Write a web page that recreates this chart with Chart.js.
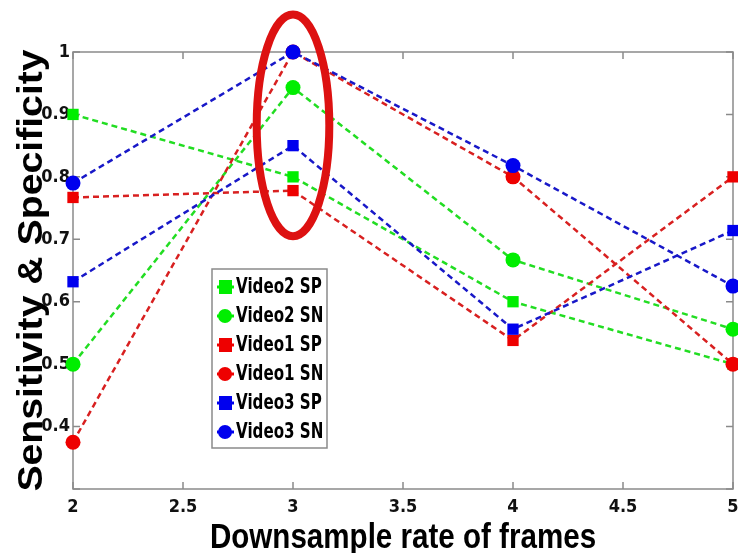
<!DOCTYPE html>
<html>
<head>
<meta charset="utf-8">
<script src="https://cdn.jsdelivr.net/npm/chart.js@4/dist/chart.umd.min.js"></script>
<style>
  html, body { margin: 0; padding: 0; background: #fff; }
  #wrap { width: 738px; height: 553px; }
</style>
</head>
<body>
<div id="wrap"><canvas id="chart" width="738" height="553"></canvas></div>
<script>
// downsample rates on the x axis
const rates = [2, 3, 4, 5];

// sensitivity / specificity per video
const video2SP = [0.9, 0.8, 0.6, 0.5];
const video2SN = [0.5, 0.943, 0.667, 0.556];
const video1SP = [0.767, 0.778, 0.538, 0.8];
const video1SN = [0.375, 1.0, 0.8, 0.5];
const video3SP = [0.632, 0.85, 0.556, 0.714];
const video3SN = [0.79, 1.0, 0.818, 0.625];

const xTicks = [2, 2.5, 3, 3.5, 4, 4.5, 5];
const yTicks = [0.3, 0.4, 0.5, 0.6, 0.7, 0.8, 0.9, 1];

const xTitle = "Downsample rate of frames";
const yTitle = "Sensitivity & Specificity";

const narrow = "'DejaVu Sans Condensed', 'Liberation Sans', sans-serif";
const bold = "'Liberation Sans', Arial, sans-serif";

const GREEN = "#00ee00", RED = "#ee0000", BLUE = "#0000ee";

const series = [
  { label: "Video2 SP", data: video2SP, color: GREEN, line: "#22dd22", shape: "rect" },
  { label: "Video2 SN", data: video2SN, color: GREEN, line: "#22dd22", shape: "circle" },
  { label: "Video1 SP", data: video1SP, color: RED, line: "#d82020", shape: "rect" },
  { label: "Video1 SN", data: video1SN, color: RED, line: "#d82020", shape: "circle" },
  { label: "Video3 SP", data: video3SP, color: BLUE, line: "#1818c8", shape: "rect" },
  { label: "Video3 SN", data: video3SN, color: BLUE, line: "#1818c8", shape: "circle" }
];

const datasets = series.map((s, i) => ({
  label: s.label,
  data: s.data.map((v, j) => ({ x: rates[j], y: v })),
  borderColor: s.line,
  backgroundColor: s.color,
  pointBackgroundColor: s.color,
  pointBorderColor: s.color,
  pointStyle: s.shape,
  pointRadius: s.shape === "rect" ? 8 : 7.5,
  pointBorderWidth: 0,
  borderWidth: 2.5,
  borderDash: [6, 4],
  tension: 0,
  clip: false,
  order: series.length - i
}));

// MATLAB-like box with inward ticks, axis titles, legend and the red ellipse
const decorations = {
  id: "decorations",
  beforeDatasetsDraw(chart) {
    const { ctx, chartArea: a, scales: { x, y } } = chart;
    ctx.save();
    ctx.strokeStyle = "#8a8a8a";
    ctx.lineWidth = 1.5;
    ctx.strokeRect(a.left, a.top, a.right - a.left, a.bottom - a.top);
    ctx.beginPath();
    xTicks.forEach(t => {
      const px = x.getPixelForValue(t);
      ctx.moveTo(px, a.bottom); ctx.lineTo(px, a.bottom - 7);
      ctx.moveTo(px, a.top); ctx.lineTo(px, a.top + 7);
    });
    yTicks.forEach(t => {
      const py = y.getPixelForValue(t);
      ctx.moveTo(a.left, py); ctx.lineTo(a.left + 7, py);
      ctx.moveTo(a.right, py); ctx.lineTo(a.right - 7, py);
    });
    ctx.stroke();

    // axis titles, squeezed like the original figure
    ctx.fillStyle = "#000";
    ctx.font = "bold 35px " + bold;
    ctx.textAlign = "center";
    ctx.textBaseline = "alphabetic";
    ctx.save();
    ctx.translate((a.left + a.right) / 2, 548);
    ctx.scale(0.845, 1);
    ctx.fillText(xTitle, 0, 0);
    ctx.restore();
    ctx.save();
    ctx.translate(42, (a.top + a.bottom) / 2);
    ctx.rotate(-Math.PI / 2);
    ctx.scale(1.12, 1);
    ctx.fillText(yTitle, 0, 0);
    ctx.restore();
    ctx.restore();
  },
  afterDraw(chart) {
    const { ctx, scales: { x, y } } = chart;
    ctx.save();

    // legend box
    const lx = 212, ly = 269, lw = 115, lh = 179, row = 29;
    ctx.fillStyle = "#fff";
    ctx.fillRect(lx, ly, lw, lh);
    ctx.strokeStyle = "#8a8a8a";
    ctx.lineWidth = 1.5;
    ctx.strokeRect(lx, ly, lw, lh);
    chart.data.datasets.forEach((ds, i) => {
      const cy = ly + 18 + i * row;
      ctx.strokeStyle = ds.backgroundColor;
      ctx.lineWidth = 3;
      ctx.setLineDash([]);
      ctx.beginPath();
      ctx.moveTo(lx + 5, cy); ctx.lineTo(lx + 22, cy);
      ctx.stroke();
      ctx.fillStyle = ds.backgroundColor;
      if (ds.pointStyle === "rect") {
        ctx.fillRect(lx + 7, cy - 7, 13, 14);
      } else {
        ctx.beginPath();
        ctx.arc(lx + 13, cy, 7, 0, Math.PI * 2);
        ctx.fill();
      }
      ctx.fillStyle = "#000";
      ctx.font = "bold 21px " + narrow;
      ctx.textBaseline = "middle";
      ctx.save();
      ctx.translate(lx + 24, cy + 1);
      ctx.scale(0.8, 1);
      ctx.fillText(ds.label, 0, 0);
      ctx.restore();
    });

    // red ellipse around x = 3
    const cx = x.getPixelForValue(3);
    const top = y.getPixelForValue(1.06), bot = y.getPixelForValue(0.705);
    const rx = x.getPixelForValue(3.165) - cx;
    ctx.strokeStyle = "#dd1111";
    ctx.lineWidth = 8;
    ctx.beginPath();
    ctx.ellipse(cx, (top + bot) / 2, rx, (bot - top) / 2, 0, 0, Math.PI * 2);
    ctx.stroke();
    ctx.restore();
  }
};

new Chart(document.getElementById("chart").getContext("2d"), {
  type: "line",
  data: { datasets },
  plugins: [decorations],
  options: {
    responsive: false,
    animation: false,
    layout: { autoPadding: false, padding: { top: 52, right: 5, left: 0, bottom: 0 } },
    plugins: {
      legend: { display: false },
      tooltip: { enabled: false }
    },
    scales: {
      x: {
        type: "linear",
        min: 2,
        max: 5,
        afterFit: s => { s.height = 64; s.paddingRight = 0; s.paddingLeft = 0; },
        afterBuildTicks: s => { s.ticks = xTicks.map(v => ({ value: v })); },
        grid: { display: false, drawTicks: false },
        border: { display: false },
        ticks: {
          padding: 8,
          color: "#111",
          font: { family: narrow, size: 18, weight: "bold" },
          callback: v => String(v)
        },
        title: { display: false, text: xTitle }
      },
      y: {
        type: "linear",
        min: 0.3,
        max: 1,
        afterFit: s => { s.width = 73; s.paddingTop = 0; s.paddingBottom = 0; },
        afterBuildTicks: s => { s.ticks = yTicks.map(v => ({ value: v })); },
        grid: { display: false, drawTicks: false },
        border: { display: false },
        ticks: {
          padding: 3,
          color: "#111",
          font: { family: narrow, size: 18, weight: "bold" },
          callback: v => (v < 0.35 ? "" : String(Number(v.toFixed(1))))
        },
        title: { display: false, text: yTitle }
      }
    }
  }
});
</script>
</body>
</html>
